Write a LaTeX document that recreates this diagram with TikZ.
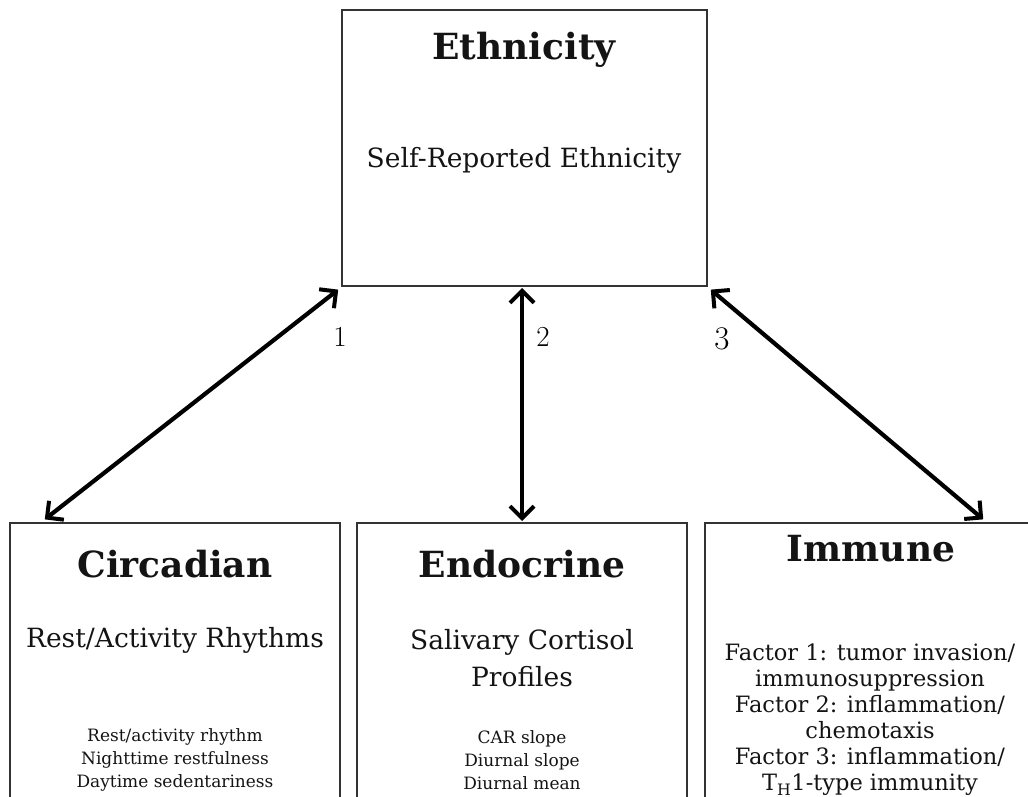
\documentclass[tikz,border=0pt]{standalone}
\usepackage{fontspec}
\setmainfont{DejaVu Serif}
\newfontfamily\lmfont{Latin Modern Roman}
\usetikzlibrary{arrows.meta,calc}
\definecolor{boxline}{HTML}{333333}
\definecolor{txt}{HTML}{141414}
\tikzset{
  box/.style={draw=boxline, line width=2pt, rectangle, inner sep=0pt},
  ttl/.style={font=\fontsize{36}{40}\selectfont\bfseries, text=txt, inner sep=0pt},
  sub/.style={font=\fontsize{26.5}{37}\selectfont, text=txt, align=center, inner sep=0pt},
  small/.style={font=\fontsize{17}{23}\selectfont, text=txt, align=center, inner sep=0pt},
  fac/.style={font=\fontsize{22.5}{26}\selectfont, text=txt, align=center, inner sep=0pt},
  num/.style={font=\lmfont\fontsize{29}{30}\selectfont, text=black, inner sep=0pt},
  link/.style={line width=4.2pt, black, {Straight Barb[length=12pt,width=24pt,line width=4pt]}-{Straight Barb[length=12pt,width=24pt,line width=4pt]}, shorten <=1pt, shorten >=1pt}
}
\begin{document}
\begin{tikzpicture}[x=1pt,y=-1pt]
\useasboundingbox (0,0) rectangle (1028,797);
\clip (0,0) rectangle (1028,797);
\fill[white] (0,0) rectangle (1028,797);
% boxes
\node[box, minimum width=365pt, minimum height=276pt] (eth) at (524.5,148) {};
\node[box, minimum width=330pt, minimum height=300pt] (circ) at (175,673) {};
\node[box, minimum width=330pt, minimum height=300pt] (endo) at (522,673) {};
\node[box, minimum width=335pt, minimum height=300pt] (imm) at (872.5,673) {};
% texts
\node[ttl] (ethT) at (524,50) {Ethnicity};
\node[sub] (ethS) at (524,160) {Self-Reported Ethnicity};
\node[ttl] (circT) at (175,564) {Circadian};
\node[sub] (circS) at (175,640) {Rest/Activity Rhythms};
\node[small] (circL) at (175,760) {Rest/activity rhythm\\Nighttime restfulness\\Daytime sedentariness};
\node[ttl] (endoT) at (522,564) {Endocrine};
\node[sub] (endoS) at (522,658) {Salivary Cortisol\\Profiles};
\node[small] (endoL) at (522,760) {CAR slope\\Diurnal slope\\Diurnal mean};
\node[ttl] (immT) at (871,549) {Immune};
\node[fac] (immL) at (870,720) {Factor 1: tumor invasion/\\immunosuppression\\Factor 2: inflammation/\\chemotaxis\\Factor 3: inflammation/\\T\textsubscript{H}1-type immunity};
% connectors
\draw[link] ($(eth.south west)+(-2,2)$) -- ($(circ.north west)+(35,-2)$);
\draw[link] (endo.north |- eth.south) -- (endo.north);
\draw[link] ($(eth.south east)+(2,2)$) -- ($(imm.north west)+(280,-2)$);
% numbers
\node[num] (n1) at (340,337) {1};
\node[num] (n2) at (543,337) {2};
\node[num, font=\lmfont\fontsize{33}{34}\selectfont] (n3) at (722,339) {3};
\end{tikzpicture}
\end{document}
